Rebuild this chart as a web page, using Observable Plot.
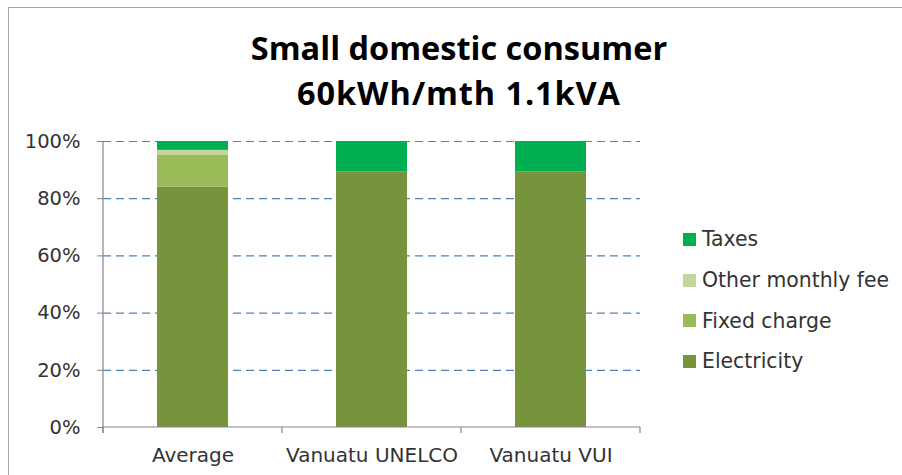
<!DOCTYPE html>
<html>
<head>
<meta charset="utf-8">
<script src="https://cdn.jsdelivr.net/npm/d3@7"></script>
<script src="https://cdn.jsdelivr.net/npm/@observablehq/plot@0.6"></script>
<style>
  body { margin: 0; background: #fff; font-family: "DejaVu Sans", sans-serif; }
  #wrap { position: relative; width: 902px; height: 475px; overflow: hidden; background: #fff; }
  #frame { position: absolute; left: 8px; top: 7px; width: 900px; height: 480px;
           border-left: 1.5px solid #a6a6a6; border-top: 1.5px solid #a6a6a6; }
  #title { position: absolute; left: 0; top: 25px; width: 918px; text-align: center;
           font-family: "Open Sans", sans-serif;
           font-weight: bold; font-size: 32.5px; line-height: 45px; color: #000; }
  #title .l2 { letter-spacing: 0.9px; }
  #chart { position: absolute; left: 0; top: 120px; }
  #legend { position: absolute; left: 683px; top: 219px; }
  .item { display: flex; align-items: center; height: 40.7px; font-size: 20.4px; color: #333; }
  .sw { width: 13px; height: 13px; margin-right: 6px; }
</style>
</head>
<body>
<div id="wrap">
  <div id="frame"></div>
  <div id="title">Small domestic consumer<br><span class="l2">60kWh/mth 1.1kVA</span></div>
  <div id="chart"></div>
  <div id="legend"></div>
</div>
<script>
const categories = ["Average", "Vanuatu UNELCO", "Vanuatu VUI"];
const seriesNames = ["Electricity", "Fixed charge", "Other monthly fee", "Taxes"];
const seriesColors = ["#77933c", "#9bbb59", "#c3d69b", "#00b050"];
const electricity = [0.841, 0.893, 0.893];
const fixedCharge = [0.110, 0.0, 0.0];
const otherFee = [0.018, 0.0, 0.0];
const taxes = [0.031, 0.107, 0.107];
const yTicks = [0, 0.2, 0.4, 0.6, 0.8, 1.0];
const gridTicks = [0.2, 0.4, 0.6, 0.8, 1.0];

const seriesValues = [electricity, fixedCharge, otherFee, taxes];
const rows = [];
seriesNames.forEach((s, i) => {
  categories.forEach((c, j) => rows.push({category: c, series: s, value: seriesValues[i][j]}));
});

const W = 902, H = 355;
const axisMark = (index, scales, values, dims) => {
  const g = d3.create("svg:g");
  const x0 = dims.marginLeft, x1 = dims.width - dims.marginRight;
  const y0 = scales.y(0), yTop = scales.y(1);
  const step = (x1 - x0) / categories.length;
  g.append("line").attr("x1", x0).attr("x2", x0).attr("y1", yTop).attr("y2", y0 + 6)
    .attr("stroke", "#868686").attr("stroke-width", 1.2);
  g.append("line").attr("x1", x0).attr("x2", x1).attr("y1", y0).attr("y2", y0)
    .attr("stroke", "#868686").attr("stroke-width", 1.2);
  for (let i = 0; i <= categories.length; i++) {
    const xx = x0 + i * step;
    g.append("line").attr("x1", xx).attr("x2", xx).attr("y1", y0).attr("y2", y0 + 6)
      .attr("stroke", "#868686").attr("stroke-width", 1.2);
  }
  return g.node();
};

const chart = Plot.plot({
  width: W,
  height: H,
  marginLeft: 103,
  marginRight: 262,
  marginTop: 21,
  marginBottom: 48,
  style: {fontFamily: "DejaVu Sans, sans-serif", fontSize: "20px", color: "#333", background: "transparent"},
  x: {domain: categories, paddingInner: 0.603, paddingOuter: 0.3015, label: null},
  y: {domain: [0, 1], label: null},
  color: {domain: seriesNames, range: seriesColors},
  marks: [
    Plot.ruleY(gridTicks, {stroke: "#4f81bd", strokeWidth: 1.2, strokeDasharray: "8,5"}),
    Plot.barY(rows, {x: "category", y: "value", fill: "series", order: seriesNames}),
    Plot.axisY({ticks: yTicks, tickFormat: d3.format(".0%"), tickSize: 6, tickPadding: 17, stroke: "#868686", fill: "#333", fontSize: 19.5, label: null}),
    Plot.axisX({tickSize: 0, tickPadding: 20, fill: "#333", fontSize: 20, label: null}),
    axisMark
  ]
});
document.getElementById("chart").appendChild(chart);

const legend = document.getElementById("legend");
for (let i = seriesNames.length - 1; i >= 0; i--) {
  const item = document.createElement("div");
  item.className = "item";
  const sw = document.createElement("div");
  sw.className = "sw";
  sw.style.background = seriesColors[i];
  const t = document.createElement("span");
  t.textContent = seriesNames[i];
  item.appendChild(sw);
  item.appendChild(t);
  legend.appendChild(item);
}
</script>
</body>
</html>
